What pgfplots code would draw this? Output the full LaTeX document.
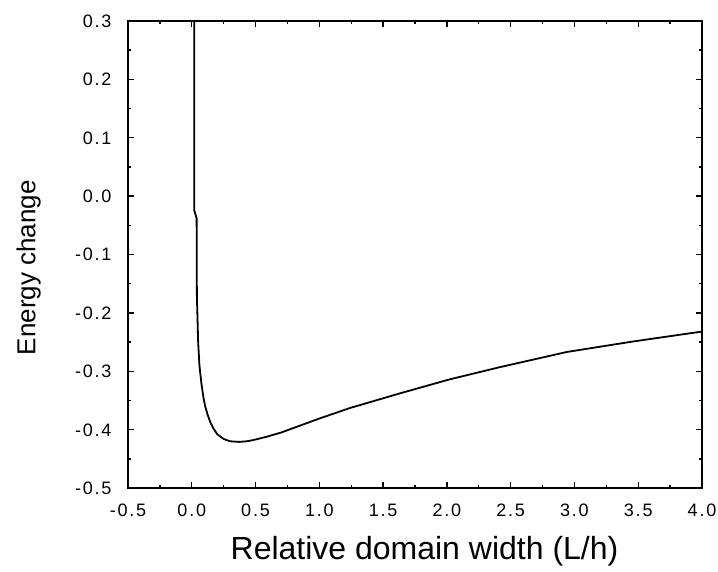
\documentclass[border=0pt]{standalone}
\usepackage{fontspec}
\setmainfont{Liberation Sans}
\newfontfamily\tickfont[LetterSpace=10]{Liberation Sans}
\usepackage{pgfplots}
\pgfplotsset{compat=1.18}
\begin{document}
\begin{tikzpicture}
\path[use as bounding box] (-128bp,-84bp) rectangle (590bp,488bp);
\begin{axis}[
  at={(0,0)}, anchor=south west,
  scale only axis,
  width=574bp, height=467bp,
  xmin=-0.5, xmax=4.0, ymin=-0.5, ymax=0.3,
  xtick={-0.5,0.0,0.5,1.0,1.5,2.0,2.5,3.0,3.5,4.0},
  ytick={-0.5,-0.4,-0.3,-0.2,-0.1,0.0,0.1,0.2,0.3},
  minor tick num=1,
  tick align=inside,
  major tick length=6bp,
  minor tick length=3bp,
  axis line style={line width=1.6bp},
  every tick/.style={black, line width=1.4bp},
  /pgf/number format/assume math mode=true,
  /pgf/number format/.cd, fixed, fixed zerofill, precision=1, /pgfplots/.cd,
  tick label style={font=\fontsize{18bp}{20bp}\selectfont\tickfont, text height=13bp, text depth=0pt},
  yticklabel style={xshift=-13bp},
  xticklabel style={yshift=-12bp},
  xlabel={Relative domain width (L/h)},
  ylabel={Energy change},
  xlabel style={font=\fontsize{32bp}{36bp}\selectfont, at={(axis description cs:0.5166,-0.135)}, anchor=center},
  ylabel style={font=\fontsize{26bp}{30bp}\selectfont, at={(axis description cs:-0.173,0.472)}, anchor=center, rotate=0},
]
\addplot[black, line width=1.8bp] coordinates {
(0.020, 0.300)
(0.020, -0.025)
(0.038, -0.038)
(0.040, -0.170)
(0.050, -0.250)
(0.060, -0.290)
(0.075, -0.320)
(0.090, -0.343)
(0.105, -0.360)
(0.125, -0.375)
(0.145, -0.387)
(0.170, -0.398)
(0.200, -0.408)
(0.250, -0.416)
(0.300, -0.420)
(0.370, -0.421)
(0.430, -0.420)
(0.480, -0.418)
(0.590, -0.412)
(0.700, -0.405)
(0.850, -0.393)
(1.000, -0.381)
(1.240, -0.363)
(1.630, -0.338)
(2.020, -0.314)
(2.415, -0.293)
(2.940, -0.267)
(3.460, -0.249)
(4.000, -0.232)
};
\end{axis}
\end{tikzpicture}
\end{document}
